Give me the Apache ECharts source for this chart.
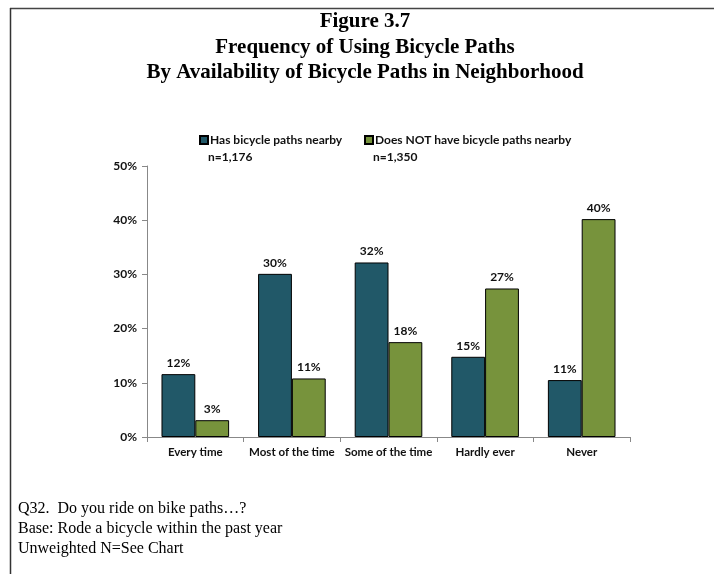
<!DOCTYPE html>
<html><head><meta charset="utf-8">
<script src="https://cdn.jsdelivr.net/npm/echarts@6/dist/echarts.min.js"></script>
<style>html,body{margin:0;padding:0;background:#fff}#c{width:714px;height:574px}</style>
</head><body><div id="c"></div>
<script>
const categories = ['Every time', 'Most of the time', 'Some of the time', 'Hardly ever', 'Never'];
const seriesNames = ['Has bicycle paths nearby', 'Does NOT have bicycle paths nearby'];
const seriesN = ['n=1,176', 'n=1,350'];
const hasPaths = [11.6, 30.1, 32.2, 14.8, 10.5];
const noPaths = [3.1, 10.8, 17.5, 27.4, 40.2];
const yTicks = [0, 10, 20, 30, 40, 50];
const titleLines = ['Figure 3.7', 'Frequency of Using Bicycle Paths', 'By Availability of Bicycle Paths in Neighborhood'];
const notes = ['Q32.  Do you ride on bike paths\u2026?', 'Base: Rode a bicycle within the past year', 'Unweighted N=See Chart'];
const colors = ['#215868', '#77933C'];

const sansFont = 'Lato, "Open Sans", sans-serif';
const serifFont = '"Liberation Serif", "Times New Roman", serif';
const txt = '#111';
const chart = echarts.init(document.getElementById('c'));
const labelCfg = {
  show: true, position: 'top', distance: 5,
  formatter: p => Math.round(p.value) + '%',
  fontFamily: sansFont, fontWeight: 'bold', fontSize: 12, color: txt
};
const legendX = [199, 364];
chart.setOption({
  animation: false,
  textStyle: { fontFamily: sansFont },
  legend: seriesNames.map((n, i) => ({
    data: [n], left: legendX[i], top: 134, itemWidth: 8, itemHeight: 8, itemGap: 0, padding: 0,
    icon: 'rect',
    textStyle: { fontFamily: sansFont, fontWeight: 'bold', fontSize: 12, color: txt, padding: [0, 0, 0, -3] },
    selectedMode: false
  })),
  grid: { left: 147, right: 84, top: 166, bottom: 137 },
  xAxis: {
    type: 'category', data: categories,
    axisLine: { lineStyle: { color: '#888', width: 1 } },
    axisTick: { show: true, length: 5, lineStyle: { color: '#888' } },
    axisLabel: { interval: 0, fontFamily: sansFont, fontWeight: 'bold', fontSize: 11.5, color: txt, margin: 9 }
  },
  yAxis: {
    type: 'value', min: yTicks[0], max: yTicks[yTicks.length - 1], interval: 10,
    axisLine: { show: true, lineStyle: { color: '#888', width: 1 } },
    axisTick: { show: true, length: 5, lineStyle: { color: '#888' } },
    splitLine: { show: false },
    axisLabel: { formatter: v => v + '%', fontFamily: sansFont, fontWeight: 'bold', fontSize: 12, color: txt, margin: 10 }
  },
  series: [
    { name: seriesNames[0], type: 'bar', data: hasPaths, barGap: '0%', barCategoryGap: '30%',
      itemStyle: { color: colors[0], borderColor: '#000', borderWidth: 1 }, label: labelCfg },
    { name: seriesNames[1], type: 'bar', data: noPaths, barGap: '0%', barCategoryGap: '30%',
      itemStyle: { color: colors[1], borderColor: '#000', borderWidth: 1 }, label: labelCfg }
  ],
  graphic: [
    { type: 'line', shape: { x1: 10, y1: 8.5, x2: 714, y2: 8.5 }, style: { stroke: '#444', lineWidth: 1.5 } },
    { type: 'line', shape: { x1: 10.5, y1: 8, x2: 10.5, y2: 574 }, style: { stroke: '#333', lineWidth: 1.5 } },
    ...titleLines.map((t, i) => ({
      type: 'text', x: 365, y: 22 + i * 25.5,
      style: { text: t, align: 'center', verticalAlign: 'middle', fontFamily: serifFont, fontWeight: 'bold', fontSize: 21, fill: '#000' }
    })),
    ...seriesN.map((t, i) => ({
      type: 'text', left: legendX[i] + 9, top: 151,
      style: { text: t, fontFamily: sansFont, fontWeight: 'bold', fontSize: 12, fill: txt }
    })),
    ...notes.map((t, i) => ({
      type: 'text', left: 18, top: 501 + i * 20,
      style: { text: t, fontFamily: serifFont, fontSize: 16, fill: '#000' }
    }))
  ]
});
</script></body></html>
